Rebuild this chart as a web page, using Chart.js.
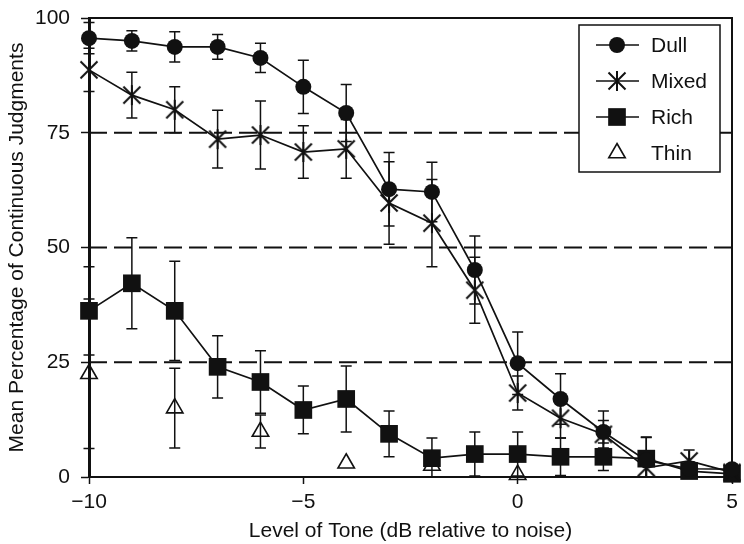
<!DOCTYPE html>
<html><head><meta charset="utf-8">
<script src="https://cdn.jsdelivr.net/npm/chart.js@4/dist/chart.umd.min.js"></script>
<style>html,body{margin:0;padding:0;background:#fff}canvas{display:block}</style>
</head><body>
<canvas id="c" width="744" height="544"></canvas>
<script>
// ---- data ----
const levels = [-10,-9,-8,-7,-6,-5,-4,-3,-2,-1,0,1,2,3,4,5];
const dull     = [95.6,95.0,93.7,93.7,91.3,85.0,79.3,62.7,62.1,45.1,24.8,17.0,9.8,3.6,1.8,1.7];
const dullErr  = [3.4,2.2,3.3,2.7,3.2,5.8,6.2,8.0,6.5,7.4,6.8,5.5,4.6,5.0,1.5,1.0];
const mixed    = [88.7,83.2,80.0,73.6,74.5,70.8,71.5,59.7,55.3,40.7,18.3,12.8,9.3,2.0,3.5,1.0];
const mixedErr = [4.7,5.0,5.0,6.3,7.4,5.7,6.4,9.0,9.5,7.2,3.7,4.3,3.0,2.0,2.4,1.0];
const rich     = [36.2,42.2,36.2,24.0,20.7,14.6,17.0,9.4,4.1,5.0,5.0,4.4,4.4,4.0,1.3,0.7];
const richErr  = [9.6,9.9,10.8,6.8,6.8,5.2,7.2,5.0,4.4,4.8,4.8,4.1,3.0,4.7,1.0,0.7];
const thin     = [22.5,null,15.0,null,9.9,null,3.0,null,2.5,null,0.5,null,null,null,null,null];
const thinErr  = [16.3,null,8.7,null,3.6,null,0,null,0,null,0,null,null,null,null,null];
const seriesNames = ['Dull','Mixed','Rich','Thin'];
const xTickValues = [-10,-5,0,5];
const xTickLabels = ['\u221210','\u22125','0','5'];
const yTickValues = [0,25,50,75,100];
const yTickLabels = ['0','25','50','75','100'];
const refLines = [25,50,75];
const xTitle = 'Level of Tone (dB relative to noise)';
const yTitle = 'Mean Percentage of Continuous Judgments';

const INK = '#111';
Chart.defaults.font.family = "'Liberation Sans', Arial, Helvetica, sans-serif";
Chart.defaults.font.size = 21;
Chart.defaults.color = INK;

function makeAsterisk(){
  const c = document.createElement('canvas'); c.width = 24; c.height = 24;
  const g = c.getContext('2d'); g.strokeStyle = INK; g.lineWidth = 2;
  g.beginPath();
  g.moveTo(12,2); g.lineTo(12,22);
  g.moveTo(3.5,3.5); g.lineTo(20.5,20.5);
  g.moveTo(20.5,3.5); g.lineTo(3.5,20.5);
  g.stroke();
  return c;
}
const asterisk = makeAsterisk();

const toXY = arr => levels.map((x,i)=>({x:x, y:arr[i]}));
const errorSets = [dullErr, mixedErr, richErr, thinErr];

const datasets = [
  {label:seriesNames[0], data:toXY(dull), borderColor:INK, backgroundColor:INK, borderWidth:1.7,
   pointStyle:'circle', pointRadius:8, pointBackgroundColor:INK, pointBorderWidth:0, showLine:true, clip:false},
  {label:seriesNames[1], data:toXY(mixed), borderColor:INK, backgroundColor:INK, borderWidth:1.7,
   pointStyle:asterisk, pointRadius:10, showLine:true, clip:false},
  {label:seriesNames[2], data:toXY(rich), borderColor:INK, backgroundColor:INK, borderWidth:1.7,
   pointStyle:'rect', pointRadius:12.5, pointBackgroundColor:INK, pointBorderWidth:0, showLine:true, clip:false},
  {label:seriesNames[3], data:toXY(thin), borderColor:INK, backgroundColor:'rgba(0,0,0,0)', borderWidth:1.5,
   pointStyle:'triangle', pointRadius:9.5, pointBackgroundColor:'rgba(0,0,0,0)', pointBorderColor:INK, pointBorderWidth:1.6, showLine:false, clip:false}
];

function drawMarker(ctx, i, x, y){
  ctx.save();
  ctx.fillStyle = INK; ctx.strokeStyle = INK;
  if (i===0){ ctx.beginPath(); ctx.arc(x,y,8,0,Math.PI*2); ctx.fill(); }
  else if (i===1){ ctx.drawImage(asterisk, x-12, y-12); }
  else if (i===2){ const s = 12.5*Math.SQRT1_2; ctx.fillRect(x-s,y-s,2*s,2*s); }
  else { const r=9.5; ctx.lineWidth=1.6; ctx.beginPath(); ctx.moveTo(x,y-r);
    ctx.lineTo(x+0.866*r,y+r/2); ctx.lineTo(x-0.866*r,y+r/2); ctx.closePath(); ctx.stroke(); }
  ctx.restore();
}

const decor = {
  id:'decor',
  beforeDatasetsDraw(chart){
    const {ctx, chartArea:a, scales:{x, y}} = chart;
    ctx.save();
    ctx.strokeStyle = INK; ctx.lineWidth = 1.8; ctx.setLineDash([18,7]);
    refLines.forEach(v=>{
      const py = y.getPixelForValue(v);
      ctx.beginPath(); ctx.moveTo(a.left, py); ctx.lineTo(a.right, py); ctx.stroke();
    });
    ctx.setLineDash([]);
    ctx.lineWidth = 2;
    ctx.beginPath(); ctx.moveTo(a.left, a.top); ctx.lineTo(a.right, a.top); ctx.lineTo(a.right, a.bottom); ctx.stroke();
    // error bars
    ctx.lineWidth = 1.5;
    chart.data.datasets.forEach((ds, i)=>{
      const errs = errorSets[i];
      ds.data.forEach((p, j)=>{
        const e = errs[j];
        if (p.y == null || !e) return;
        const px = x.getPixelForValue(p.x);
        const yt = y.getPixelForValue(Math.min(100, p.y + e));
        const yb = y.getPixelForValue(Math.max(0, p.y - e));
        ctx.beginPath();
        ctx.moveTo(px, yt); ctx.lineTo(px, yb);
        ctx.moveTo(px-5.5, yt); ctx.lineTo(px+5.5, yt);
        ctx.moveTo(px-5.5, yb); ctx.lineTo(px+5.5, yb);
        ctx.stroke();
      });
    });
    ctx.restore();
  },
  afterDraw(chart){
    const {ctx, chartArea:a} = chart;
    const bx = a.right - 153, by = a.top + 7, bw = 141, bh = 147;
    ctx.save();
    ctx.fillStyle = '#fff'; ctx.fillRect(bx, by, bw, bh);
    ctx.strokeStyle = INK; ctx.lineWidth = 1.5; ctx.strokeRect(bx, by, bw, bh);
    ctx.font = "21px 'Liberation Sans', Arial, sans-serif";
    ctx.textBaseline = 'middle'; ctx.textAlign = 'left'; ctx.fillStyle = INK;
    chart.data.datasets.forEach((ds, i)=>{
      const ry = by + 20 + i*36;
      if (ds.showLine){
        ctx.lineWidth = 1.7; ctx.beginPath(); ctx.moveTo(bx+17, ry); ctx.lineTo(bx+60, ry); ctx.stroke();
      }
      drawMarker(ctx, i, bx+38, ry);
      ctx.fillStyle = INK;
      ctx.fillText(ds.label, bx+72, ry+1);
    });
    ctx.restore();
  }
};

new Chart(document.getElementById('c'), {
  type:'line',
  data:{datasets},
  plugins:[decor],
  options:{
    responsive:false, animation:false, devicePixelRatio:1,
    layout:{autoPadding:false, padding:{left:0, right:12, top:18, bottom:0}},
    plugins:{legend:{display:false}, tooltip:{enabled:false}},
    scales:{
      x:{type:'linear', min:-10, max:5,
        afterFit(s){ s.height = 67; s.paddingLeft = 0; s.paddingRight = 0; s.paddingTop = 0; s.paddingBottom = 0; },
        afterBuildTicks(s){ s.ticks = xTickValues.map(v=>({value:v})); },
        ticks:{padding:6, font:{size:21}, color:INK, maxRotation:0,
          callback:(v)=>{ const k = xTickValues.indexOf(v); return k<0 ? '' : xTickLabels[k]; }},
        grid:{drawOnChartArea:false, drawTicks:true, tickLength:7, tickColor:INK, tickWidth:1.5},
        border:{display:true, color:INK, width:2},
        title:{display:true, text:xTitle, font:{size:21}, color:INK, padding:{top:0,bottom:0}}
      },
      y:{type:'linear', min:0, max:100,
        afterFit(s){ s.width = 89; s.paddingTop = 0; s.paddingBottom = 0; s.paddingLeft = 0; s.paddingRight = 0; },
        afterBuildTicks(s){ s.ticks = yTickValues.map(v=>({value:v})); },
        ticks:{padding:11, font:{size:21}, color:INK,
          callback:(v)=>{ const k = yTickValues.indexOf(v); return k<0 ? '' : yTickLabels[k]; }},
        grid:{drawOnChartArea:false, drawTicks:true, tickLength:8, tickColor:INK, tickWidth:1.5},
        border:{display:true, color:INK, width:3},
        title:{display:true, text:yTitle, font:{size:21}, color:INK, padding:{top:5,bottom:0}}
      }
    }
  }
});
</script>
</body></html>
